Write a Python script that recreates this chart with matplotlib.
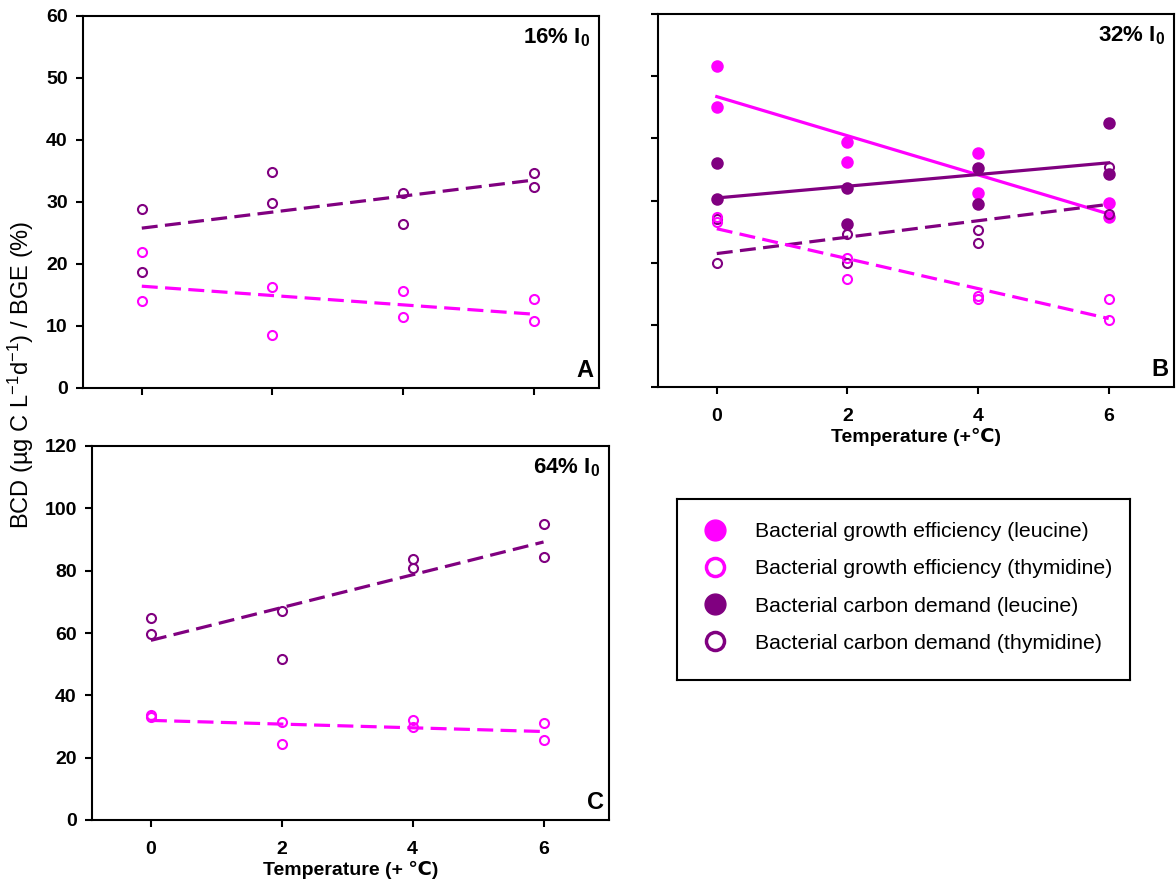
import matplotlib
matplotlib.use('Agg')
import matplotlib.pyplot as plt
import numpy as np

plt.rcParams['font.family'] = ['Liberation Sans', 'DejaVu Sans']
plt.rcParams['mathtext.fontset'] = 'custom'
plt.rcParams['mathtext.rm'] = 'Liberation Sans'
plt.rcParams['mathtext.bf'] = 'Liberation Sans:bold'
plt.rcParams['mathtext.it'] = 'Liberation Sans:italic'

# data (two replicates per temperature)
temps = [0, 0, 2, 2, 4, 4, 6, 6]

# A: 16% I0
a_bcd_thy = [28.9, 18.7, 34.8, 29.9, 31.5, 26.4, 34.6, 32.5]
a_bge_thy = [22.0, 14.0, 16.3, 8.6, 15.7, 11.5, 14.4, 10.8]

# B: 32% I0
b_bge_leu = [51.6, 45.1, 39.4, 36.2, 37.7, 31.2, 29.6, 27.4]
b_bcd_leu = [36.0, 30.3, 32.0, 26.2, 35.3, 29.4, 42.4, 34.3]
b_bcd_thy = [27.0, 20.0, 24.6, 20.0, 25.3, 23.2, 35.4, 27.9]
b_bge_thy = [27.3, 26.6, 20.8, 17.4, 14.7, 14.2, 14.2, 10.7]

# C: 64% I0
c_bcd_thy = [64.9, 59.6, 67.2, 51.7, 83.9, 80.7, 95.1, 84.3]
c_bge_thy = [33.7, 33.1, 31.5, 24.3, 32.2, 29.8, 31.0, 25.8]

x_ticks = [0, 2, 4, 6]
legend_labels = ['Bacterial growth efficiency (leucine)',
                 'Bacterial growth efficiency (thymidine)',
                 'Bacterial carbon demand (leucine)',
                 'Bacterial carbon demand (thymidine)']

MAG = '#ff00ff'
PUR = '#800080'
DASH = (0, (5.0, 2.3))

W, H = 1176, 891
fig = plt.figure(figsize=(W / 100, H / 100), dpi=100)


def box(l, t, r, b):
    return [l / W, 1 - b / H, (r - l) / W, (b - t) / H]


def style(ax, ymax, ystep, ylab, xlab):
    ax.set_xlim(-0.9, 7.0)
    ax.set_ylim(0, ymax)
    ax.set_xticks(x_ticks)
    ax.set_yticks(np.arange(0, ymax + 1, ystep))
    for s in ax.spines.values():
        s.set_linewidth(1.5)
    ax.tick_params(direction='out', length=5, width=1.5, labelsize=14)
    ax.tick_params(axis='x', pad=10)
    ax.tick_params(axis='y', pad=6)
    if not ylab:
        ax.set_yticklabels([])
    if not xlab:
        ax.set_xticklabels([])
    for t in ax.get_xticklabels() + ax.get_yticklabels():
        t.set_fontweight('bold')


def series(ax, y, color, filled, ls):
    x = np.array(temps)
    ax.plot(x, y, 'o', ms=6.5 if not filled else 7.5,
            mfc=color if filled else 'none', mec=color, mew=1.5, zorder=3)
    k, c = np.polyfit(x, y, 1)
    xl = np.array([0, 6])
    ax.plot(xl, k * xl + c, color=color, lw=2.3, ls=ls, zorder=2)


def tag(ax, pct, letter):
    ax.text(0.982, 0.972, pct + r'% I$_\mathbf{0}$', transform=ax.transAxes,
            ha='right', va='top', fontsize=16, fontweight='bold')
    ax.text(0.99, 0.015, letter, transform=ax.transAxes,
            ha='right', va='bottom', fontsize=17, fontweight='bold')


axA = fig.add_axes(box(83, 16, 599, 388))
series(axA, a_bcd_thy, PUR, False, DASH)
series(axA, a_bge_thy, MAG, False, DASH)
style(axA, 60, 10, True, False)
tag(axA, '16', 'A')

axB = fig.add_axes(box(658, 14, 1174, 387))
series(axB, b_bge_leu, MAG, True, '-')
series(axB, b_bcd_leu, PUR, True, '-')
series(axB, b_bcd_thy, PUR, False, DASH)
series(axB, b_bge_thy, MAG, False, DASH)
style(axB, 60, 10, False, True)
axB.set_xlabel('Temperature (+\u2103)', fontsize=14, fontweight='bold', labelpad=2)
tag(axB, '32', 'B')

axC = fig.add_axes(box(92, 446, 609, 820))
series(axC, c_bcd_thy, PUR, False, DASH)
series(axC, c_bge_thy, MAG, False, DASH)
style(axC, 120, 20, True, True)
axC.set_xlabel('Temperature (+ \u2103)', fontsize=14, fontweight='bold', labelpad=2)
tag(axC, '64', 'C')

fig.text(21 / W, 1 - 375 / H,
         r'BCD (µg C L$\mathregular{^{-1}}$d$\mathregular{^{-1}}$) / BGE (%)',
         rotation=90, ha='center', va='center', fontsize=17)

# legend box
handles = [
    plt.Line2D([], [], ls='none', marker='o', ms=15, mfc=MAG, mec=MAG),
    plt.Line2D([], [], ls='none', marker='o', ms=13, mfc='none', mec=MAG, mew=2.5),
    plt.Line2D([], [], ls='none', marker='o', ms=15, mfc=PUR, mec=PUR),
    plt.Line2D([], [], ls='none', marker='o', ms=13, mfc='none', mec=PUR, mew=2.5),
]
lax = fig.add_axes(box(677, 499, 1130, 680))
lax.set_xticks([])
lax.set_yticks([])
for s in lax.spines.values():
    s.set_linewidth(1.5)
fs = 15.3
fig.legend(handles, legend_labels, loc='upper left',
           bbox_to_anchor=(694 / W, 1 - 522 / H), frameon=False, fontsize=fs,
           handlelength=2.0, handletextpad=0.88, labelspacing=0.86,
           borderpad=0, borderaxespad=0)

fig.savefig('out.png', dpi=100)
